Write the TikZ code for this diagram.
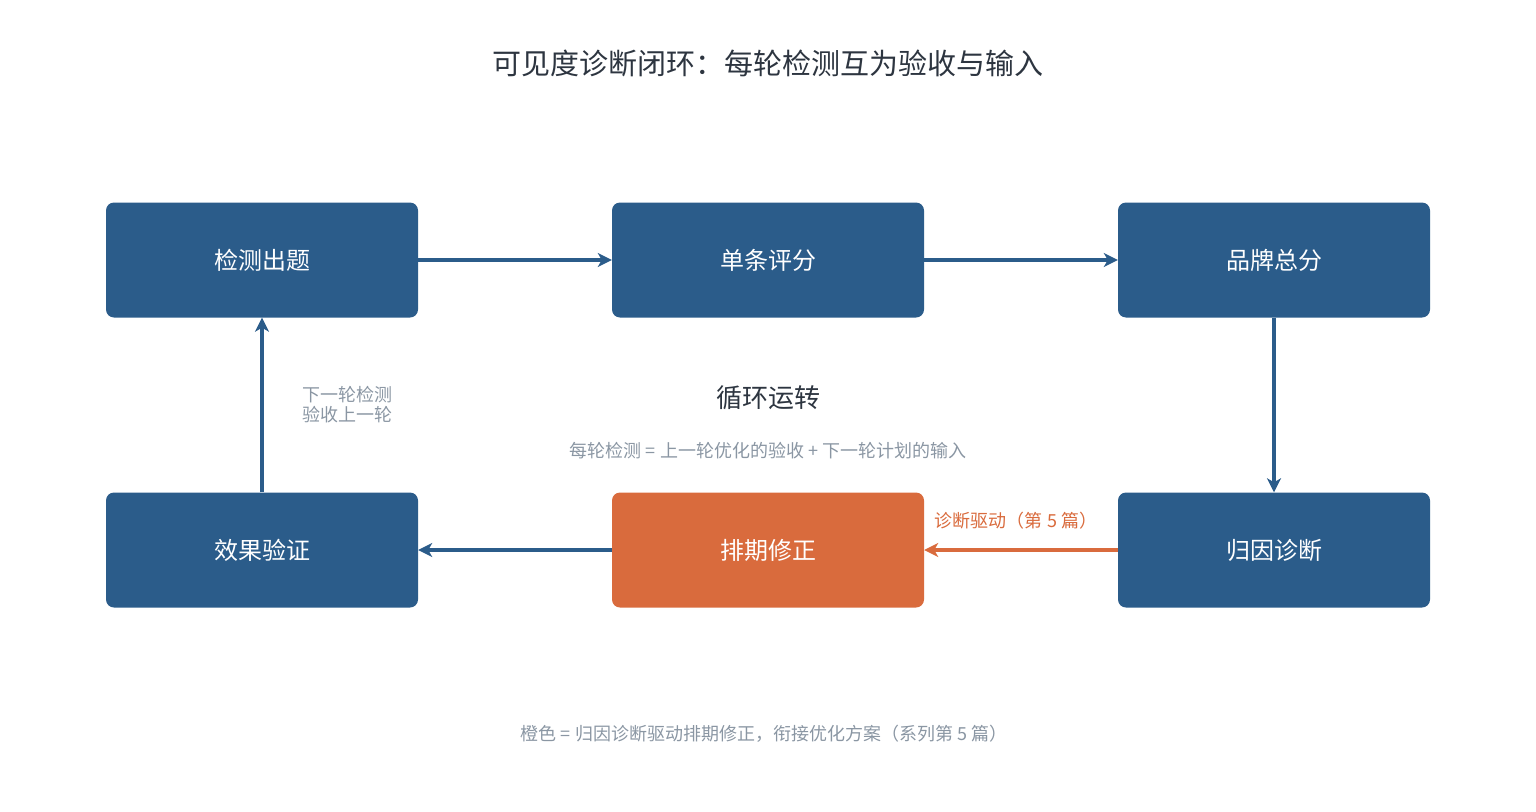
\documentclass[tikz,border=0pt]{standalone}
\usepackage{fontspec}
\setmainfont{Noto Sans CJK SC}
\usetikzlibrary{arrows.meta}
\definecolor{blu}{HTML}{2B5C8A}
\definecolor{org}{HTML}{D96B3D}
\definecolor{gry}{HTML}{8A96A3}
\definecolor{dk}{HTML}{2D3540}
\begin{document}
\begin{tikzpicture}[x=1pt,y=-1pt,
 box/.style={rectangle,rounded corners=8pt,minimum width=312pt,minimum height=115pt,fill=blu,text=white,font=\fontsize{24}{28}\selectfont,inner sep=0pt},
 ar/.style={draw=blu,line width=4pt,-{Stealth[length=14pt,width=14pt,inset=4pt]}},
 lab/.style={text=gry,font=\fontsize{18}{20}\selectfont,inner sep=0pt}]
\useasboundingbox (0,0) rectangle (1536,811);
\node[text=dk,font=\fontsize{29}{34}\selectfont] (title) at (768,63) {可见度诊断闭环：每轮检测互为验收与输入};
\node[box] (a) at (262,260) {检测出题};
\node[box] (b) at (768,260) {单条评分};
\node[box] (c) at (1274,260) {品牌总分};
\node[box] (d) at (1274,550) {归因诊断};
\node[box,fill=org] (e) at (768,550) {排期修正};
\node[box] (f) at (262,550) {效果验证};
\draw[ar] (a) -- (b);
\draw[ar] (b) -- (c);
\draw[ar] (c) -- (d);
\draw[ar,draw=org] (d) -- (e);
\draw[ar] (e) -- (f);
\draw[ar] (f) -- (a);
\node[lab,align=left,anchor=west,font=\fontsize{18}{20}\selectfont] (l1) at (302,405) {下一轮检测\\验收上一轮};
\node[text=dk,font=\fontsize{26}{30}\selectfont] (cy) at (768,398) {循环运转};
\node[lab] (l2) at (768,451) {每轮检测 = 上一轮优化的验收 + 下一轮计划的输入};
\node[lab,text=org] (l3) at (1016,521) {诊断驱动（第 5 篇）};
\node[lab] (ft) at (764,734) {橙色 = 归因诊断驱动排期修正，衔接优化方案（系列第 5 篇）};
\end{tikzpicture}
\end{document}
